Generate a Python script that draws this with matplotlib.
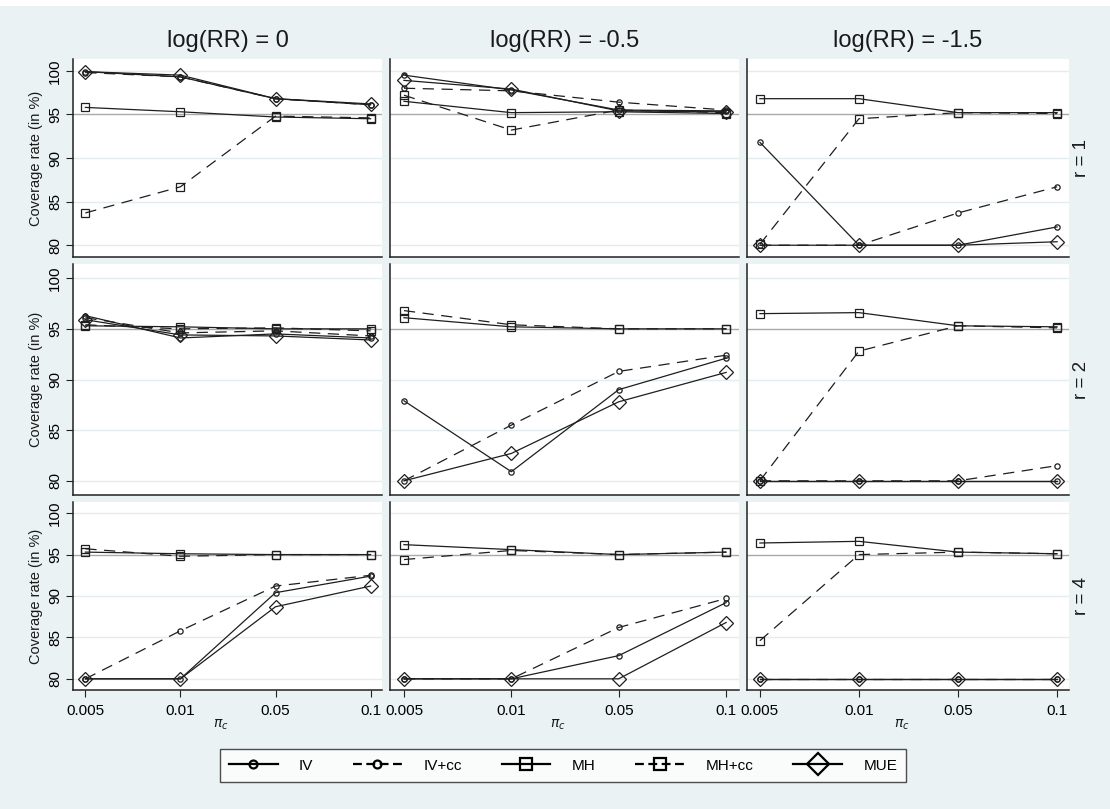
import matplotlib
matplotlib.use("Agg")
import matplotlib.pyplot as plt
from matplotlib.lines import Line2D
from matplotlib.patches import Rectangle

plt.rcParams['font.family'] = ['Liberation Sans', 'DejaVu Sans']

# categories
pi_c = ['0.005', '0.01', '0.05', '0.1']
log_rr = ['log(RR) = 0', 'log(RR) = -0.5', 'log(RR) = -1.5']
ratios = ['r = 1', 'r = 2', 'r = 4']

# coverage rates [row r][column logRR] -> one value per pi_c
iv = [
    [[99.9, 99.3, 96.8, 96.1], [99.5, 97.8, 95.5, 95.4], [91.8, 80.0, 80.0, 82.1]],
    [[96.3, 94.1, 94.5, 94.1], [87.9, 80.9, 89.0, 92.1], [80.0, 80.0, 80.0, 80.0]],
    [[80.0, 80.0, 90.4, 92.4], [80.0, 80.0, 82.8, 89.2], [80.0, 80.0, 80.0, 80.0]],
]
iv_cc = [
    [[99.8, 99.3, 96.8, 96.1], [98.0, 97.7, 96.4, 95.5], [80.0, 80.0, 83.7, 86.7]],
    [[96.1, 94.6, 94.8, 94.3], [80.0, 85.5, 90.8, 92.4], [80.0, 80.0, 80.0, 81.5]],
    [[80.0, 85.8, 91.2, 92.5], [80.0, 80.0, 86.2, 89.7], [80.0, 80.0, 80.0, 80.0]],
]
mh = [
    [[95.8, 95.3, 94.7, 94.5], [96.5, 95.2, 95.3, 95.1], [96.8, 96.8, 95.2, 95.2]],
    [[95.3, 95.2, 95.0, 95.0], [96.1, 95.2, 95.0, 95.0], [96.5, 96.6, 95.3, 95.2]],
    [[95.3, 95.1, 95.0, 95.0], [96.2, 95.6, 95.0, 95.3], [96.4, 96.6, 95.3, 95.1]],
]
mh_cc = [
    [[83.7, 86.7, 94.8, 94.6], [97.2, 93.2, 95.5, 95.2], [80.1, 94.5, 95.2, 95.1]],
    [[95.4, 95.0, 95.1, 94.8], [96.8, 95.4, 95.0, 95.0], [80.0, 92.8, 95.3, 95.1]],
    [[95.7, 94.8, 95.0, 95.0], [94.4, 95.5, 95.0, 95.3], [84.6, 95.0, 95.3, 95.1]],
]
mue = [
    [[99.9, 99.5, 96.8, 96.2], [98.9, 97.9, 95.4, 95.3], [80.0, 80.0, 80.0, 80.4]],
    [[95.9, 94.4, 94.3, 93.9], [80.0, 82.7, 87.8, 90.7], [80.0, 80.0, 80.0, 80.0]],
    [[80.0, 80.0, 88.7, 91.2], [80.0, 80.0, 80.0, 86.8], [80.0, 80.0, 80.0, 80.0]],
]

bg = '#eaf2f3'
ink = '#1e1e1e'
dash = (9, 6)

methods = [
    ('IV', iv, '-', 'o', 3.8),
    ('IV+cc', iv_cc, '--', 'o', 3.8),
    ('MH', mh, '-', 's', 5.5),
    ('MH+cc', mh_cc, '--', 's', 5.5),
    ('MUE', mue, '-', 'D', 7.5),
]

fig = plt.figure(figsize=(11.1, 8.09), dpi=100, facecolor=bg)
fig.patches.append(Rectangle((0, 1 - 6 / 809), 1, 6 / 809, transform=fig.transFigure,
                             facecolor='white', edgecolor='none', zorder=-1))
gs = fig.add_gridspec(3, 3, left=73 / 1110, right=1069 / 1110, top=1 - 59 / 809,
                      bottom=1 - 690 / 809, width_ratios=[309, 349, 322],
                      height_ratios=[198, 230, 188], wspace=0.0245, hspace=0.0365)

xs = list(range(1, len(pi_c) + 1))
axes = [[fig.add_subplot(gs[i, j]) for j in range(3)] for i in range(3)]

for i in range(3):
    for j in range(3):
        ax = axes[i][j]
        ax.set_facecolor('white')
        for y in [80, 85, 90, 100]:
            ax.axhline(y, color='#e3edef', lw=1.0, zorder=0)
        ax.axhline(95, color='#a9a9a9', lw=1.0, zorder=1)
        for name, data, ls, mk, ms in methods:
            line, = ax.plot(xs, data[i][j], color=ink, lw=0.9, ls=ls, marker=mk, ms=ms,
                            mfc='none', mec=ink, mew=0.9, zorder=3)
            if ls == '--':
                line.set_dashes(dash)
        ax.set_xlim(0.87, 4.12)
        ax.set_ylim(78.65, 101.35)
        for s in ['top', 'right']:
            ax.spines[s].set_visible(False)
        for s in ['left', 'bottom']:
            ax.spines[s].set_color('#222222')
            ax.spines[s].set_linewidth(1.1)
        ax.set_xticks(xs)
        ax.set_yticks([80, 85, 90, 95, 100])
        if i == 2:
            ax.set_xticklabels(pi_c, fontsize=11)
            ax.tick_params(axis='x', length=5, width=0.8, color='#222222', pad=5)
        else:
            ax.tick_params(axis='x', length=0, labelbottom=False)
        if j == 0:
            ax.set_yticklabels(['80', '85', '90', '95', '100'], fontsize=11, rotation=90,
                               va='center')
            ax.tick_params(axis='y', length=5, width=0.8, color='#222222', pad=3)
        else:
            ax.tick_params(axis='y', length=0, labelleft=False)

# column titles, pi_c labels
for j in range(3):
    pos = axes[0][j].get_position()
    xc = (pos.x0 + pos.x1) / 2
    fig.text(xc, 1 - 41 / 809, log_rr[j], ha='center', va='center', fontsize=17, color='#1a1a1a')
    fig.text(xc - 0.006, 1 - 725 / 809, r'$\pi_c$', ha='center', va='center', fontsize=10,
             color='#1a1a1a')

# row labels
for i in range(3):
    pos = axes[i][0].get_position()
    yc = (pos.y0 + pos.y1) / 2
    fig.text(36 / 1110, yc, 'Coverage rate (in %)', rotation=90, ha='center', va='center',
             fontsize=10.5, color='#1a1a1a')
    fig.text(1082 / 1110, yc, ratios[i], rotation=90, ha='center', va='center', fontsize=13.5,
             color='#1a1a1a')

handles = []
for name, data, ls, mk, ms in methods:
    h = Line2D([], [], color='black', lw=1.6, ls=ls, marker=mk, ms=ms * 1.5 if mk != 'D' else 11,
               mfc='none', mec='black', mew=1.6, label=name)
    if ls == '--':
        h.set_dashes((4, 2))
    handles.append(h)
leg = fig.legend(handles=handles, ncol=5, loc='center', bbox_to_anchor=(563 / 1110, 1 - 765.5 / 809),
                 frameon=True, fancybox=False, edgecolor='#222222', fontsize=11,
                 handlelength=3.2, columnspacing=2.6, handletextpad=1.4, borderpad=0.6)
leg.get_frame().set_linewidth(1.0)

fig.savefig('out.png', dpi=100, facecolor=fig.get_facecolor())
